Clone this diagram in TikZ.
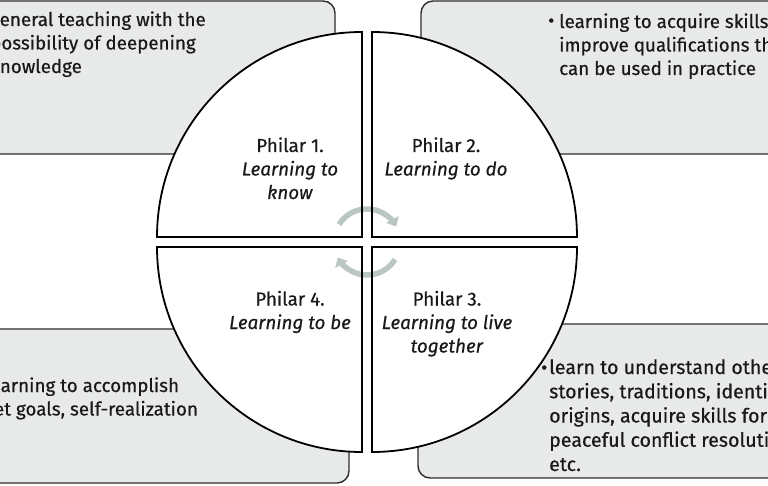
\documentclass[tikz,border=0pt]{standalone}
\usepackage{fontspec}
\setmainfont{Fira Sans}[FakeBold=0.5]
\usetikzlibrary{arrows.meta}
\definecolor{boxfill}{RGB}{232,234,234}
\definecolor{boxline}{RGB}{45,45,45}
\definecolor{cyc}{RGB}{186,198,196}
\tikzset{
  graybox/.style={fill=boxfill, draw=boxline, line width=1.4pt, rounded corners=12pt},
  quadfill/.style={fill=white},
  quadline/.style={draw=black, line width=1.8pt, line join=miter},
  cyclearrow/.style={draw=cyc, line width=5.5pt, -{Triangle[width=14pt,length=8pt]}},
  txt/.style={font=\fontsize{18.8}{23.5}\selectfont, inner sep=0pt, text=black!90},
  txtwide/.style={font=\fontsize{19.6}{24.25}\selectfont, inner sep=0pt, text=black!90},
}
\begin{document}
\begin{tikzpicture}[x=1pt,y=-1pt]
\useasboundingbox (0,0) rectangle (768,486);
\clip (0,0) rectangle (768,486);
% gray boxes
\path[graybox] (-30,1) rectangle (335,154);
\path[graybox] (421,1) rectangle (800,154);
\path[graybox] (-30,329) rectangle (349,483);
\path[graybox] (418,324) rectangle (800,478);
% box texts (anchor = baseline of last line)
\node[txt, align=left, anchor=base west] (tl) at (-10,73) {general teaching with the\\possibility of deepening\\knowledge};
\node[txt, anchor=base west] (trb) at (548,27) {•};
\node[txt, align=left, anchor=base west] (tr) at (559,75) {learning to acquire skills,\\improve qualifications that\\can be used in practice};
\node[txt, align=left, anchor=base west] (bl) at (-15,415.5) {learning to accomplish\\set goals, self-realization};
\node[txt, anchor=base west] (brb) at (541,374) {•};
\node[txtwide, align=left, anchor=base west] (br) at (549,471) {learn to understand others’\\stories, traditions, identities,\\origins, acquire skills for\\peaceful conflict resolution,\\etc.};
% quadrant fills
\path[quadfill] (362,237) -- (157,237) arc[start angle=180,end angle=270,radius=205] -- cycle;
\path[quadfill] (372,237) -- (372,32) arc[start angle=270,end angle=360,radius=205] -- cycle;
\path[quadfill] (372,247) -- (577,247) arc[start angle=0,end angle=90,radius=205] -- cycle;
\path[quadfill] (362,247) -- (362,452) arc[start angle=90,end angle=180,radius=205] -- cycle;
% cycle arrows
\coordinate (cc) at (367,242);
\draw[cyclearrow] ([shift={(212:33)}]cc) arc[start angle=212,end angle=332,radius=33];
\draw[cyclearrow] ([shift={(32:33)}]cc) arc[start angle=32,end angle=152,radius=33];
% quadrant outlines
\path[quadline] (362,237) -- (157,237) arc[start angle=180,end angle=270,radius=205] -- cycle;
\path[quadline] (372,237) -- (372,32) arc[start angle=270,end angle=360,radius=205] -- cycle;
\path[quadline] (372,247) -- (577,247) arc[start angle=0,end angle=90,radius=205] -- cycle;
\path[quadline] (362,247) -- (362,452) arc[start angle=90,end angle=180,radius=205] -- cycle;
% pillar texts (anchor = baseline of last line)
\node[txt, align=center, anchor=base] (p1) at (290,199) {Philar 1.\\\textit{Learning to}\\\textit{know}};
\node[txt, align=center, anchor=base] (p2) at (446,175.5) {Philar 2.\\\textit{Learning to do}};
\node[txt, align=center, anchor=base] (p3) at (447,352.5) {Philar 3.\\\textit{Learning to live}\\\textit{together}};
\node[txt, align=center, anchor=base] (p4) at (290,329) {Philar 4.\\\textit{Learning to be}};
\end{tikzpicture}
\end{document}
